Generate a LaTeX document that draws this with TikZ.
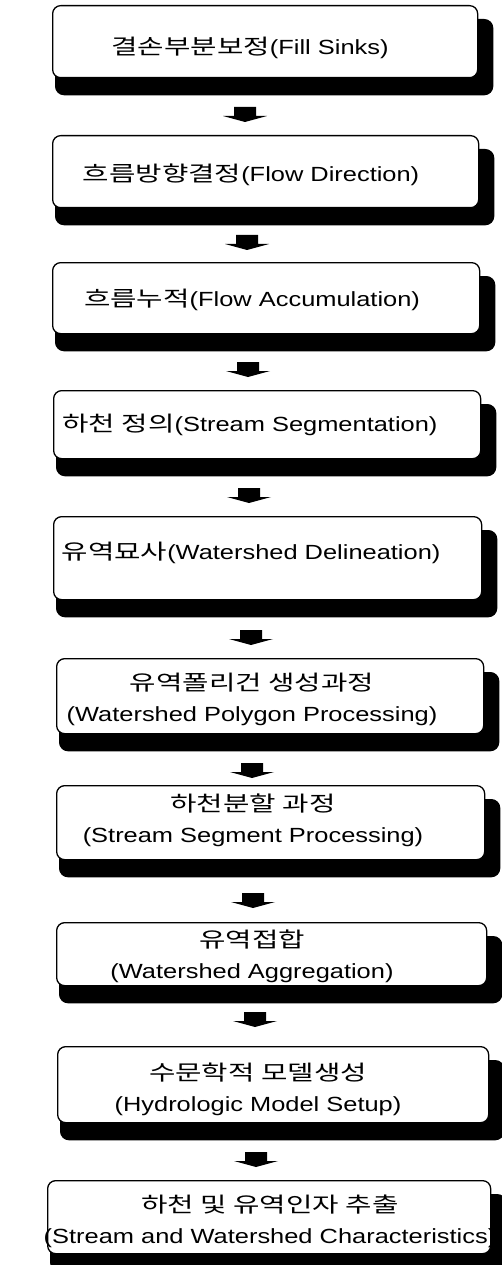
\documentclass[tikz,border=0pt]{standalone}
\usepackage{fontspec}
\setmainfont{Liberation Sans}[FakeStretch=1.24]
\newfontfamily\kr{Noto Sans CJK KR}[FakeStretch=1.36,Scale=1.03]
\usetikzlibrary{calc,backgrounds}
\tikzset{
  boxsty/.style={draw=black, line width=1.3pt, fill=white, rounded corners=8pt,
    anchor=north west, inner sep=0pt},
  txt/.style={font=\fontsize{20.5}{31}\selectfont, align=center, inner sep=0pt},
  shadowsty/.style={fill=black, rounded corners=9pt},
  pics/blockarrow/.style={code={\fill[black] (-11,0) -- (11,0) -- (11,9) -- (22,9) -- (0,15) -- (-22,9) -- (-11,9) -- cycle;}}
}
\newcommand\mkbox[5]{% name, left, top, right, bottom
  \node[boxsty, minimum width={(#4-#2)*1pt}, minimum height={(#5-#3)*1pt}] (#1) at (#2,#3) {};
  \begin{scope}[on background layer]
    \fill[shadowsty] ($(#1.north west)+(3,14)$) rectangle ($(#1.south east)+(15,17)$);
  \end{scope}}
\begin{document}
\begin{tikzpicture}[x=1pt,y=-1pt]
\useasboundingbox (0,0) rectangle (502,1265);
\mkbox{b1}{52}{5}{477}{77}
\mkbox{b2}{52}{135}{478}{207}
\mkbox{b3}{52}{262}{479}{333}
\mkbox{b4}{53}{390}{480}{458}
\mkbox{b5}{53}{516}{481}{599}
\mkbox{b6}{56}{658}{483}{733}
\mkbox{b7}{56}{785}{484}{859}
\mkbox{b8}{56}{922}{486}{985}
\mkbox{b9}{57}{1046}{488}{1122}
\mkbox{b10}{47}{1180}{490}{1253}

\node[txt] (t1) at (250,48) {{\kr 결손부분보정}(Fill Sinks)};
\node[txt] (t2) at (251,175) {{\kr 흐름방향결정}(Flow Direction)};
\node[txt] (t3) at (252,300) {{\kr 흐름누적}(Flow Accumulation)};
\node[txt] (t4) at (250,425) {{\kr 하천 정의}(Stream Segmentation)};
\node[txt] (t5) at (251,553) {{\kr 유역묘사}(Watershed Delineation)};
\node[txt] (t6) at (252,699) {{\kr 유역폴리건 생성과정}\\(Watershed Polygon Processing)};
\node[txt] (t7) at (253,820) {{\kr 하천분할 과정}\\(Stream Segment Processing)};
\node[txt] (t8) at (252,956) {{\kr 유역접합}\\(Watershed Aggregation)};
\node[txt] (t9) at (258,1089) {{\kr 수문학적 모델생성}\\(Hydrologic Model Setup)};
\node[txt] (t10) at (270,1221) {{\kr 하천 및 유역인자 추출}\\(Stream and Watershed Characteristics)};

\coordinate (a1) at (245,107);
\coordinate (a2) at (247,235);
\coordinate (a3) at (248,362);
\coordinate (a4) at (249,488);
\coordinate (a5) at (251,630);
\coordinate (a6) at (252,763);
\coordinate (a7) at (253,893);
\coordinate (a8) at (255,1012);
\coordinate (a9) at (256,1152);
\foreach \a in {a1,a2,a3,a4,a5,a6,a7,a8,a9} {\pic at (\a) {blockarrow};}
\end{tikzpicture}
\end{document}
